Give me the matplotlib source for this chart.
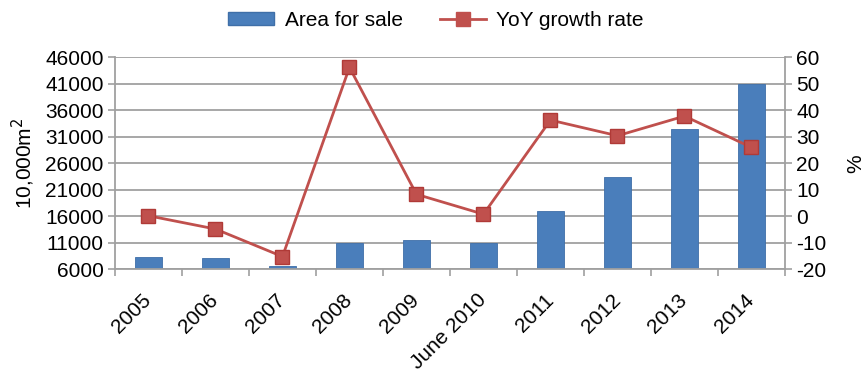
import matplotlib
matplotlib.use("Agg")
import matplotlib.pyplot as plt
import numpy as np
from matplotlib.patches import Patch
from matplotlib.lines import Line2D

plt.rcParams['font.family'] = ['Liberation Sans', 'DejaVu Sans']
plt.rcParams['axes.unicode_minus'] = False

categories = ["2005", "2006", "2007", "2008", "2009", "June 2010",
              "2011", "2012", "2013", "2014"]
area_for_sale = [8400, 8100, 6700, 11000, 11500, 10900, 17000, 23500, 32400, 40900]
yoy_growth = [0.2, -4.8, -15.2, 56.2, 8.3, 0.8, 36.3, 30.4, 37.8, 26.0]

left_ticks = [6000, 11000, 16000, 21000, 26000, 31000, 36000, 41000, 46000]
right_ticks = [-20, -10, 0, 10, 20, 30, 40, 50, 60]

bar_color = "#4A7EBB"
line_color = "#C0504D"
grid_color = "#A0A0A0"
fs = 15

fig = plt.figure(figsize=(8.67, 3.73), dpi=100)
ax = fig.add_axes([0.1326, 0.278, 0.7728, 0.5684])
x = np.arange(len(categories))

ax.bar(x, [v - left_ticks[0] for v in area_for_sale], bottom=left_ticks[0],
       width=0.4, color=bar_color, edgecolor="#3F6FA8", linewidth=0.6, zorder=2)
ax.set_ylim(left_ticks[0], left_ticks[-1])
ax.set_yticks(left_ticks)
ax.set_xlim(-0.5, len(categories) - 0.5)
ax.set_xticks(np.arange(len(categories) + 1) - 0.5, minor=False)
ax.set_xticklabels([])
ax.set_xticks(x, minor=True)
ax.set_xticklabels(categories, minor=True, rotation=45, ha="right", va="center",
                   rotation_mode="anchor", fontsize=fs)
ax.tick_params(axis="x", which="minor", length=0, pad=20)
ax.tick_params(axis="x", which="major", length=5, color=grid_color, width=1.2)
ax.tick_params(axis="y", labelsize=fs, length=5, color=grid_color, width=1.2, pad=3)
ax.grid(axis="y", color=grid_color, linewidth=1.3, zorder=0)
ax.set_axisbelow(True)
for side in ["top", "right"]:
    ax.spines[side].set_visible(False)
for side in ["left", "bottom"]:
    ax.spines[side].set_color(grid_color)
    ax.spines[side].set_linewidth(1.3)
ax.set_ylabel("10,000m$^2$", fontsize=fs, labelpad=6)

ax2 = ax.twinx()
ax2.plot(x, yoy_growth, color=line_color, linewidth=2, marker="s",
         markersize=10, markerfacecolor=line_color, markeredgecolor="#B03A37",
         zorder=3)
ax2.set_ylim(right_ticks[0], right_ticks[-1])
ax2.set_yticks(right_ticks)
ax2.tick_params(axis="y", labelsize=fs, length=5, color=grid_color, width=1.2, pad=3)
for side in ["top", "left", "bottom"]:
    ax2.spines[side].set_visible(False)
ax2.spines["right"].set_color(grid_color)
ax2.spines["right"].set_linewidth(1.3)
ax2.set_ylabel("%", fontsize=fs, labelpad=14)

handles = [Patch(facecolor=bar_color, edgecolor="#3F6FA8"),
           Line2D([0], [0], color=line_color, linewidth=2, marker="s",
                  markersize=10, markerfacecolor=line_color)]
fig.legend(handles, ["Area for sale", "YoY growth rate"], loc="center",
           bbox_to_anchor=(0.503, 0.945), ncol=2, frameon=False, fontsize=fs,
           handlelength=2.2, handleheight=0.6, columnspacing=1.8, handletextpad=0.5)

fig.savefig("out.png", dpi=100)
